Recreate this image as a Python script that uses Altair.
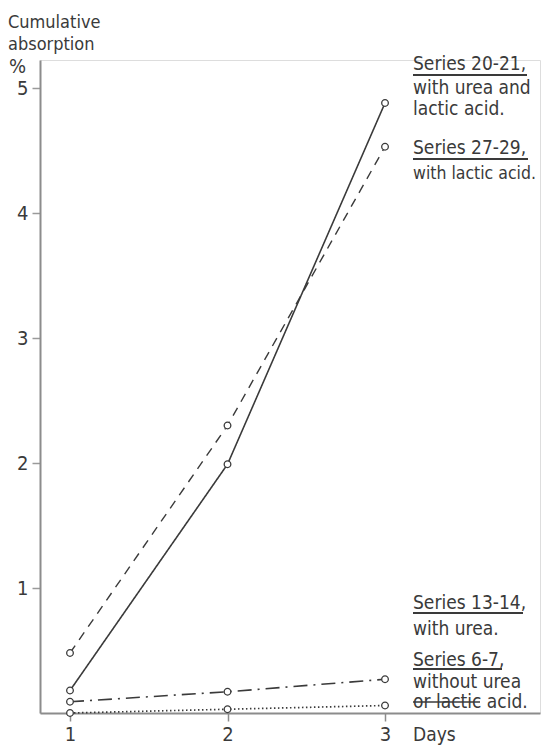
import altair as alt
import pandas as pd

# ---- data ----
days = [1, 2, 3]
series_names = ["Series 20-21", "Series 27-29", "Series 13-14", "Series 6-7"]
s20_21 = [0.18, 1.99, 4.88]
s27_29 = [0.48, 2.30, 4.53]
s13_14 = [0.09, 0.17, 0.27]
s6_7 = [0.0, 0.03, 0.06]
values = [s20_21, s27_29, s13_14, s6_7]
x_ticks = [1, 2, 3]
y_ticks = [1, 2, 3, 4, 5]

# ---- styles ----
FONT = "DejaVu Sans Condensed, Liberation Sans Narrow, sans-serif"
INK = "#3a3a3a"
dashes = [[1, 0], [9, 7], [14, 6, 2, 6], [1.5, 2.5]]
widths = [1.6, 1.4, 1.6, 1.7]

W, H = 500, 653
xdom = [0.8095, 3.984]
ydom = [0, 5.224]

xs = alt.Scale(domain=xdom, nice=False, zero=False)
ys = alt.Scale(domain=ydom, nice=False, zero=False)

layers = []
for name, vals, dsh, sw in zip(series_names, values, dashes, widths):
    df = pd.DataFrame({"day": days, "pct": vals, "series": name})
    base = alt.Chart(df)
    layers.append(
        base.mark_line(color=INK, strokeWidth=sw, strokeDash=dsh).encode(
            x=alt.X("day:Q", scale=xs,
                    axis=alt.Axis(values=x_ticks, title=None, format="d",
                                  tickSize=8, labelPadding=19, labelBaseline="alphabetic",
                                  domainColor="#8c8c8c",
                                  domainWidth=2, tickColor="#8c8c8c", tickWidth=1.5,
                                  labelFontSize=20, labelColor=INK, labelFont=FONT,
                                  grid=False)),
            y=alt.Y("pct:Q", scale=ys,
                    axis=alt.Axis(values=y_ticks, title=None, format="d",
                                  tickSize=8, labelPadding=4, domainColor="#8c8c8c",
                                  domainWidth=2, tickColor="#9a9a9a", tickWidth=1.5,
                                  labelFontSize=20, labelColor=INK, labelFont=FONT,
                                  grid=False)),
        )
    )
    layers.append(
        base.mark_point(shape="circle", size=44, filled=True, fill="white",
                        stroke=INK, strokeWidth=1.3, opacity=1).encode(
            x=alt.X("day:Q", scale=xs), y=alt.Y("pct:Q", scale=ys)
        )
    )

# ---- annotation texts (pixel positions in plot area) ----
one = pd.DataFrame({"a": [0]})

def txt(s, x, y, size=19):
    return alt.Chart(one).mark_text(text=s, align="left", baseline="alphabetic",
                                    font=FONT, fontSize=size, color=INK).encode(
        x=alt.value(x), y=alt.value(y))

def rule(x1, x2, y, w=1.8):
    return alt.Chart(one).mark_rule(color=INK, strokeWidth=w).encode(
        x=alt.value(x1), x2=alt.value(x2), y=alt.value(y))

LX = 373
ann = [
    txt("Cumulative", -32, -32, 18), txt("absorption", -32, -10, 18), txt("%", -31, 13, 20),
    txt("Series  20-21,", LX, 10), rule(LX, 487, 15),
    txt("with urea and", LX, 34), txt("lactic acid.", LX, 55),
    txt("Series  27-29,", LX, 94), rule(LX, 488, 99),
    txt("with lactic acid.", LX, 119, 17.5),
    txt("Series  13-14,", LX, 549), rule(LX, 483, 553),
    txt("with urea.", LX, 575),
    txt("Series  6-7,", LX, 606), rule(LX, 462, 609),
    txt("without urea", LX, 628), txt("or lactic acid.", LX, 648), rule(LX, 440, 642, 1.5),
    txt("Days", LX, 681),
]

chart = alt.layer(*layers, *ann).properties(
    width=W, height=H,
    autosize=alt.AutoSizeParams(type="none"),
    padding={"left": 32, "top": 52, "right": 4, "bottom": 36},
).configure_view(stroke=None).configure(background="white")

chart.save("out.html", embed_options={"renderer": "svg", "actions": False})
